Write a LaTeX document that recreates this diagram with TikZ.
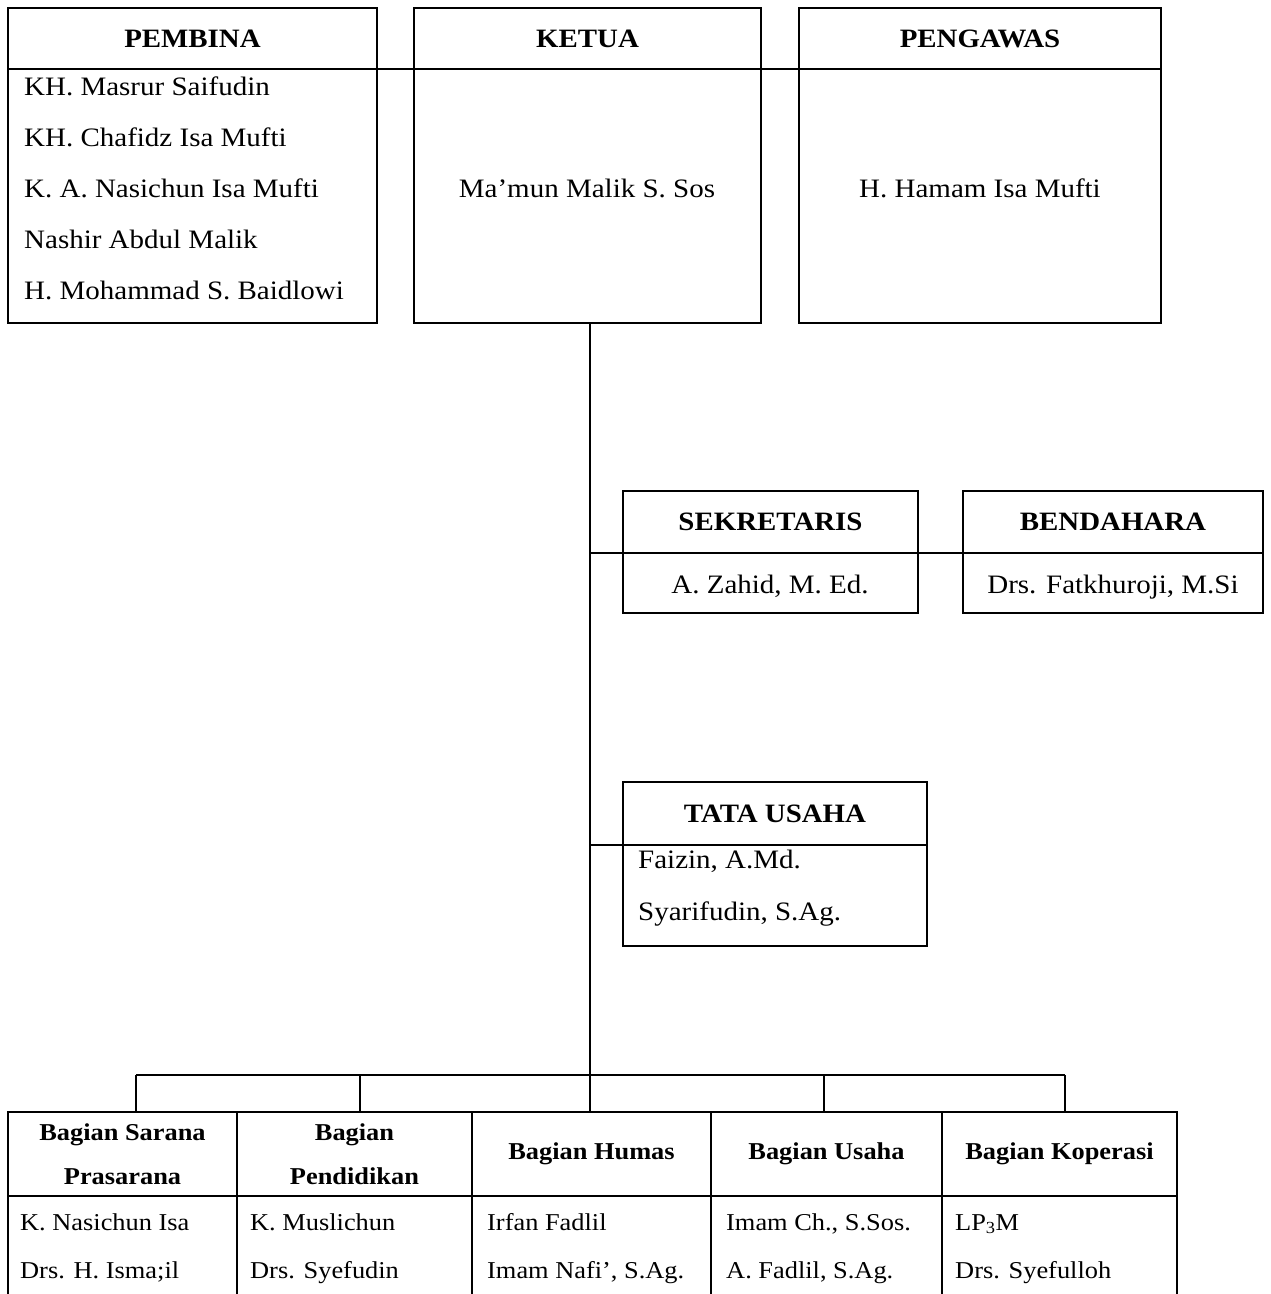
\documentclass[tikz,border=0pt]{standalone}
\usepackage{fontspec}
\setmainfont{Liberation Serif}[FakeStretch=1.09]
\begin{document}
\begin{tikzpicture}[x=1pt,y=-1pt,
  box/.style={draw, line width=1.6pt, inner sep=0pt, outer sep=0pt, anchor=north west},
  conn/.style={line width=1.1pt},
  hd/.style={font=\fontsize{26.5}{30}\selectfont\bfseries, text height=17.5pt, text depth=0pt},
  tx/.style={font=\fontsize{26.6}{30}\selectfont, inner sep=0pt, text height=17.6pt, text depth=0pt},
  hdS/.style={font=\fontsize{24.2}{44}\selectfont\bfseries, align=center},
  txS/.style={font=\fontsize{24.2}{28}\selectfont, inner sep=0pt, text height=16pt, text depth=0pt, anchor=west}]
\useasboundingbox (0,0) rectangle (1271,1294);

% ---- top row
\node[box, hd, minimum width=369pt, minimum height=61pt] (pembinaH) at (8,8) {PEMBINA};
\node[box, minimum width=369pt, minimum height=254pt] (pembinaB) at (pembinaH.south west) {};
\node[box, hd, minimum width=347pt, minimum height=61pt] (ketuaH) at (414,8) {KETUA};
\node[box, minimum width=347pt, minimum height=254pt] (ketuaB) at (ketuaH.south west) {};
\node[box, hd, minimum width=362pt, minimum height=61pt] (pengawasH) at (799,8) {PENGAWAS};
\node[box, minimum width=362pt, minimum height=254pt] (pengawasB) at (pengawasH.south west) {};

\node[tx, anchor=west] (p1) at (24,87) {KH. Masrur Saifudin};
\node[tx, anchor=west] (p2) at (24,138) {KH. Chafidz Isa Mufti};
\node[tx, anchor=west] (p3) at (24,189) {K. A. Nasichun Isa Mufti};
\node[tx, anchor=west] (p4) at (24,240) {Nashir Abdul Malik};
\node[tx, anchor=west] (p5) at (24,291) {H. Mohammad S. Baidlowi};
\node[tx] (k1) at (587,189) {Ma’mun Malik S. Sos};
\node[tx] (g1) at (980,189) {H. Hamam Isa Mufti};

\draw[conn] (pembinaH.south east) -- (ketuaH.south west);
\draw[conn] (ketuaH.south east) -- (pengawasH.south west);

% ---- sekretaris / bendahara
\node[box, hd, minimum width=295pt, minimum height=62pt] (sekH) at (623,491) {SEKRETARIS};
\node[box, minimum width=295pt, minimum height=60pt] (sekB) at (sekH.south west) {};
\node[box, hd, minimum width=300pt, minimum height=62pt] (benH) at (963,491) {BENDAHARA};
\node[box, minimum width=300pt, minimum height=60pt] (benB) at (benH.south west) {};
\node[tx] (s1) at (770,585) {A. Zahid, M. Ed.};
\node[tx] (b1) at (1113,585) {Drs. Fatkhuroji, M.Si};

% ---- tata usaha
\node[box, hd, minimum width=304pt, minimum height=63pt] (tuH) at (623,782) {TATA USAHA};
\node[box, minimum width=304pt, minimum height=101pt] (tuB) at (tuH.south west) {};
\node[tx, anchor=west] (t1) at (638,860) {Faizin, A.Md.};
\node[tx, anchor=west] (t2) at (638,912) {Syarifudin, S.Ag.};

% ---- bottom departments
\node[box, hdS, minimum width=229pt, minimum height=84pt] (c1) at (8,1112) {Bagian Sarana\\Prasarana};
\node[box, hdS, minimum width=235pt, minimum height=84pt] (c2) at (c1.north east) {Bagian\\Pendidikan};
\node[box, hdS, minimum width=239pt, minimum height=84pt] (c3) at (c2.north east) {Bagian Humas};
\node[box, hdS, minimum width=231pt, minimum height=84pt] (c4) at (c3.north east) {Bagian Usaha};
\node[box, hdS, minimum width=235pt, minimum height=84pt] (c5) at (c4.north east) {Bagian Koperasi};

\coordinate (floor) at (0,1294);
\foreach \c in {c1,c2,c3,c4,c5}{
  \draw[line width=1.6pt] (\c.south west) -- (\c.south west |- floor);
}
\draw[line width=1.6pt] (c5.south east) -- (c5.south east |- floor);

\node[txS] (r11) at (20,1222) {K. Nasichun Isa};
\node[txS] (r12) at (20,1270) {Drs. H. Isma;il};
\node[txS] (r21) at (250,1222) {K. Muslichun};
\node[txS] (r22) at (250,1270) {Drs. Syefudin};
\node[txS] (r31) at (487,1222) {Irfan Fadlil};
\node[txS] (r32) at (487,1270) {Imam Nafi’, S.Ag.};
\node[txS] (r41) at (726,1222) {Imam Ch., S.Sos.};
\node[txS] (r42) at (726,1270) {A. Fadlil, S.Ag.};
\node[txS] (r51) at (955,1222) {LP\textsubscript{3}M};
\node[txS] (r52) at (955,1270) {Drs. Syefulloh};

% ---- connectors
\coordinate (bus) at (590,1075);
\coordinate (d1) at (136,1075);
\coordinate (d2) at (360,1075);
\coordinate (d4) at (824,1075);
\coordinate (d5) at (1065,1075);
\draw[conn] (ketuaB.south -| bus) -- (bus) -- (bus |- c3.north);
\draw[conn] (bus |- sekH.south) -- (sekH.south west);
\draw[conn] (sekH.south east) -- (benH.south west);
\draw[conn] (bus |- tuH.south) -- (tuH.south west);
\draw[conn] (d1) -- (d5);
\draw[conn] (d1) -- (d1 |- c1.north);
\draw[conn] (d2) -- (d2 |- c2.north);
\draw[conn] (d4) -- (d4 |- c4.north);
\draw[conn] (d5) -- (d5 |- c5.north);
\end{tikzpicture}
\end{document}
